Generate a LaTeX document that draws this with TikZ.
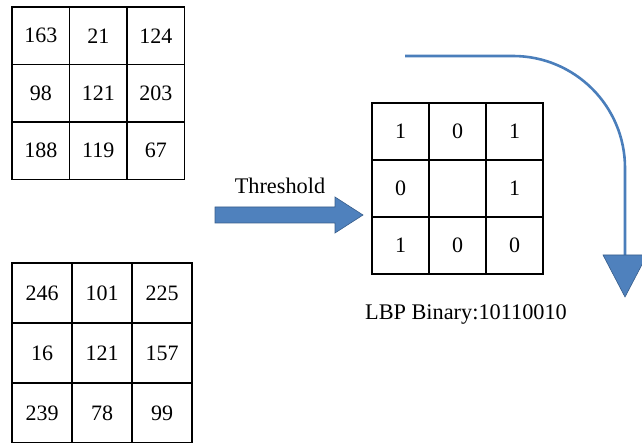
\documentclass[tikz,border=0pt]{standalone}
\usepackage{fontspec}
\setmainfont{Liberation Serif}
\usetikzlibrary{calc}
\definecolor{arrowblue}{RGB}{79,129,189}
\definecolor{arrowedge}{RGB}{56,93,138}
\definecolor{linkblue}{RGB}{74,126,187}
\tikzset{
	cell/.style={draw, line width=1.4pt, minimum width=#1, minimum height=#1, inner sep=0pt, outer sep=0pt, font=\fontsize{22}{26}\selectfont},
	label text/.style={font=\fontsize{22.3}{26}\selectfont, inner sep=0pt}
}

\begin{document}
\begin{tikzpicture}[x=1pt, y=-1pt]
		%%%%% START %%%%%
		\useasboundingbox (0, 0) rectangle (642, 443);
		
		% pixel values, upper block
		\foreach \v [count=\k from 0] in {163,21,124,98,121,203,188,119,67} {
			\pgfmathtruncatemacro{\r}{div(\k,3)}
			\pgfmathtruncatemacro{\c}{mod(\k,3)}
			\node[cell=57.5pt] (src-\k) at (40.75+57.5*\c, 35.75+57.5*\r) {\v};
		}
		
		% pixel values, lower block
		\foreach \v [count=\k from 0] in {246,101,225,16,121,157,239,78,99} {
			\pgfmathtruncatemacro{\r}{div(\k,3)}
			\pgfmathtruncatemacro{\c}{mod(\k,3)}
			\node[cell=60pt] (nbr-\k) at (42+60*\c, 293+60*\r) {\v};
		}
		
		% thresholded block
		\foreach \v [count=\k from 0] in {1,0,1,0,{},1,1,0,0} {
			\pgfmathtruncatemacro{\r}{div(\k,3)}
			\pgfmathtruncatemacro{\c}{mod(\k,3)}
			\node[cell=57pt] (bin-\k) at (400.5+57*\c, 131.5+57*\r) {\v};
		}
		
		% threshold arrow
		\node[label text] (thr) at (280, 186) {Threshold};
		\draw[fill=arrowblue, draw=arrowedge, line width=0.6pt]
			(215, 207) -- (335, 207) -- (335, 197) -- (363, 215)
			-- (335, 233) -- (335, 223) -- (215, 223) -- cycle;
		
		\node[label text] (lbp) at (466, 314) {LBP Binary:10110010};
		
		% turning arrow
		\coordinate (turn-start) at (405, 56);
		\coordinate (turn-end) at (625, 255);
		\draw[linkblue, line width=2.6pt] (turn-start) -- (513, 56) arc (-90:0:112) -- (turn-end);
		\draw[fill=arrowblue, draw=arrowedge, line width=0.6pt]
			($(turn-end)+(-22, 0)$) -- ($(turn-end)+(22, 0)$) -- ($(turn-end)+(0, 42)$) -- cycle;
		
		%%%%% END %%%%%
	\end{tikzpicture}
\end{document}
